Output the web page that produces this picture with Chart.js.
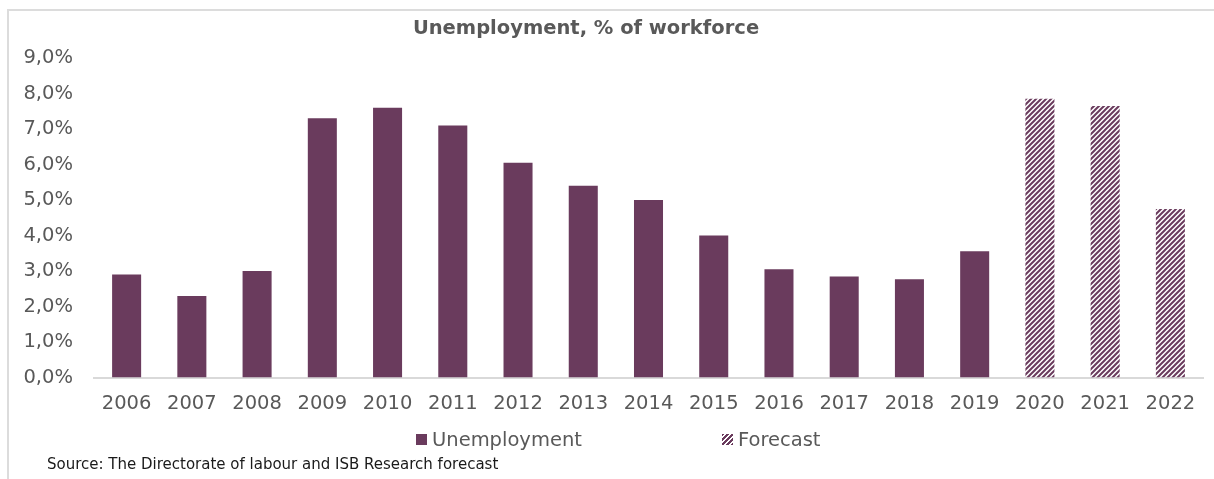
<!DOCTYPE html>
<html>
<head>
<meta charset="utf-8">
<script src="https://cdn.jsdelivr.net/npm/chart.js@4.4.1/dist/chart.umd.min.js"></script>
<style>
    html, body { margin: 0; background: #fff; overflow: hidden; font-family: "DejaVu Sans", sans-serif; }
    #page { position: relative; width: 1214px; height: 479px; overflow: hidden; }
    .rule { position: absolute; background: #dcdcdc; }
    #title {
        position: absolute; top: 16px; left: 386px; width: 400px; text-align: center;
        font-weight: bold; font-size: 19.5px; color: #595959; white-space: nowrap;
    }
    #chartBox { position: absolute; left: 0; top: 0; width: 1214px; height: 479px; }
    .legend-item {
        position: absolute; top: 428px; font-size: 19.5px; color: #595959;
        display: flex; align-items: center; white-space: nowrap;
    }
    .swatch { width: 11px; height: 11px; margin-right: 5px; }
    #source {
        position: absolute; left: 47px; top: 455px; font-size: 15px; color: #1a1a1a; white-space: nowrap;
    }
</style>
</head>
<body>
<div id="page">
    <div class="rule" style="left:7px; top:9px; width:1207px; height:2px"></div>
    <div class="rule" style="left:7px; top:9px; width:2px; height:470px"></div>
    <div id="chartBox"><canvas id="unemploymentChart"></canvas></div>
    <div id="title">Unemployment, % of workforce</div>
    <div class="legend-item" style="left:416px"><span class="swatch" id="swatchSolid"></span>Unemployment</div>
    <div class="legend-item" style="left:722px"><span class="swatch" id="swatchHatch"></span>Forecast</div>
    <div id="source">Source: The Directorate of labour and ISB Research forecast</div>
</div>
<script>
const years = ["2006", "2007", "2008", "2009", "2010", "2011", "2012", "2013", "2014", "2015", "2016", "2017", "2018", "2019", "2020", "2021", "2022"];
const unemployment = [2.9, 2.3, 3.0, 7.3, 7.6, 7.1, 6.05, 5.4, 5.0, 4.0, 3.05, 2.85, 2.77, 3.56, null, null, null];
const forecast = [null, null, null, null, null, null, null, null, null, null, null, null, null, null, 7.85, 7.65, 4.75];
const yMax = 9;
const yStep = 1;

const barColor = "#6A3B5D";
const textColor = "#595959";

function makeHatch(color) {
    const tile = document.createElement("canvas");
    tile.width = 5;
    tile.height = 5;
    const c = tile.getContext("2d");
    c.strokeStyle = color;
    c.lineWidth = 2;
    c.beginPath();
    c.moveTo(-1, 6); c.lineTo(6, -1);
    c.moveTo(-3.5, 3.5); c.lineTo(3.5, -3.5);
    c.moveTo(1.5, 8.5); c.lineTo(8.5, 1.5);
    c.stroke();
    return c.createPattern(tile, "repeat");
}

document.addEventListener("DOMContentLoaded", () => {
    document.getElementById("swatchSolid").style.background = barColor;
    document.getElementById("swatchHatch").style.background =
        "repeating-linear-gradient(135deg, " + barColor + " 0 2px, #fff 2px 3.5px)";

    const ctx = document.getElementById("unemploymentChart");
    const tickFont = { family: "DejaVu Sans", size: 19.5 };

    new Chart(ctx, {
        type: "bar",
        data: {
            labels: years,
            datasets: [
                {
                    label: "Unemployment",
                    data: unemployment,
                    backgroundColor: barColor,
                    barPercentage: 0.445,
                    categoryPercentage: 1
                },
                {
                    label: "Forecast",
                    data: forecast,
                    backgroundColor: makeHatch(barColor),
                    barPercentage: 0.445,
                    categoryPercentage: 1
                }
            ]
        },
        options: {
            responsive: true,
            maintainAspectRatio: false,
            animation: false,
            grouped: false,
            layout: { padding: { top: 58, right: 11, bottom: 48, left: 0 } },
            plugins: {
                legend: { display: false },
                title: { display: false },
                tooltip: { enabled: false }
            },
            scales: {
                x: {
                    grid: { display: false, drawTicks: false },
                    border: { display: true, color: "#d9d9d9", width: 2 },
                    ticks: { color: textColor, font: tickFont, padding: 15, maxRotation: 0, autoSkip: false }
                },
                y: {
                    min: 0,
                    max: yMax,
                    grid: { display: false, drawTicks: false },
                    border: { display: false },
                    afterFit: (scale) => { scale.width = 94; },
                    ticks: {
                        stepSize: yStep,
                        color: textColor,
                        font: tickFont,
                        padding: 21,
                        callback: (value) => value.toFixed(1).replace(".", ",") + "%"
                    }
                }
            }
        }
    });
});
</script>
</body>
</html>
